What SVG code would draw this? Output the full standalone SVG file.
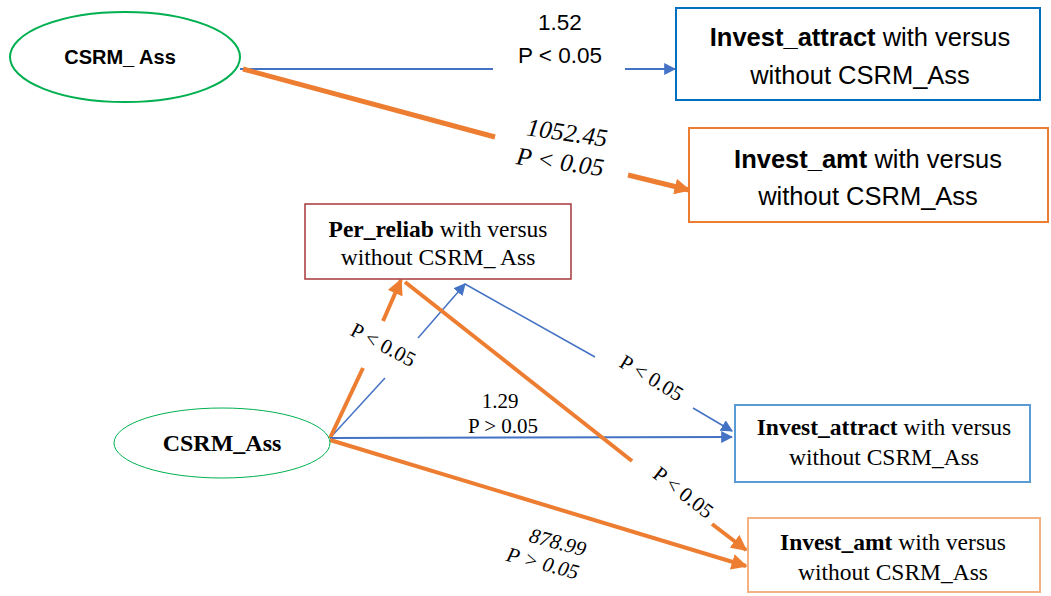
<svg xmlns="http://www.w3.org/2000/svg" width="1051" height="596" viewBox="0 0 1051 596">
<style>
.sans{font-family:"Liberation Sans",Arial,sans-serif;fill:#000}
.serif{font-family:"Liberation Serif","Times New Roman",serif;fill:#000}
.b{font-weight:bold}
.blue{stroke:#4472C4;fill:none}
.org{stroke:#ED7D31;fill:none}
</style>
<defs>
<marker id="ab2" viewBox="0 0 10 10" refX="9" refY="5" markerWidth="12" markerHeight="12" markerUnits="userSpaceOnUse" orient="auto"><path d="M0,0 L10,5 L0,10 z" fill="#4472C4"/></marker>
<marker id="ao" viewBox="0 0 10 10" refX="9" refY="5" markerWidth="16" markerHeight="16" markerUnits="userSpaceOnUse" orient="auto"><path d="M0,0 L10,5 L0,10 z" fill="#ED7D31"/></marker>
</defs>
<rect width="1051" height="596" fill="#fff"/>

<g id="connectors">
  <line class="blue" x1="240" y1="69" x2="493" y2="69" stroke-width="2"/>
  <line class="blue" x1="625" y1="69" x2="675" y2="69" stroke-width="2" marker-end="url(#ab2)"/>
  <line class="org" x1="243" y1="69" x2="495" y2="137" stroke-width="5"/>
  <line class="org" x1="628" y1="175" x2="689" y2="190" stroke-width="5" marker-end="url(#ao)"/>
  <line class="blue" x1="330" y1="438" x2="385" y2="378" stroke-width="1.5"/>
  <line class="blue" x1="418" y1="338" x2="465" y2="284" stroke-width="1.5" marker-end="url(#ab2)"/>
  <line class="org" x1="330" y1="438" x2="363" y2="368" stroke-width="4"/>
  <line class="org" x1="383" y1="321" x2="401" y2="280" stroke-width="4" marker-end="url(#ao)"/>
  <line class="blue" x1="465" y1="284" x2="595" y2="357" stroke-width="1.5"/>
  <line class="blue" x1="693" y1="408" x2="732" y2="431" stroke-width="1.5" marker-end="url(#ab2)"/>
  <line class="blue" x1="330" y1="438" x2="732" y2="437" stroke-width="2" marker-end="url(#ab2)"/>
  <line class="org" x1="405" y1="282" x2="632" y2="461" stroke-width="4"/>
  <line class="org" x1="712" y1="524" x2="746" y2="550" stroke-width="4" marker-end="url(#ao)"/>
  <line class="org" x1="330" y1="440" x2="746" y2="566" stroke-width="4" marker-end="url(#ao)"/>
</g>

<g id="labels">
  <text class="sans" x="560" y="30" font-size="22.5" text-anchor="middle">1.52</text>
  <text class="sans" x="560" y="63" font-size="22.5" text-anchor="middle">P &lt; 0.05</text>
  <text class="serif" font-style="italic" font-size="25" text-anchor="middle" transform="translate(566,141) rotate(8)">1052.45</text>
  <text class="serif" font-style="italic" font-size="25" text-anchor="middle" transform="translate(559,170) rotate(8)">P &lt; 0.05</text>
  <text class="serif" font-size="21" text-anchor="middle" transform="translate(380,351) rotate(28)">P &lt; 0.05</text>
  <text class="serif" font-size="21" text-anchor="middle" transform="translate(648,384) rotate(31)">P &lt; 0.05</text>
  <text class="serif" font-size="21" text-anchor="middle" transform="translate(679,498) rotate(38)">P &lt; 0.05</text>
  <text class="serif" x="500" y="408" font-size="21" text-anchor="middle">1.29</text>
  <text class="serif" x="503" y="433" font-size="21" text-anchor="middle">P &gt; 0.05</text>
  <text class="serif" font-style="italic" font-size="21" text-anchor="middle" transform="translate(556,549) rotate(15)">878.99</text>
  <text class="serif" font-style="italic" font-size="21" text-anchor="middle" transform="translate(541,570) rotate(15)">P &gt; 0.05</text>
</g>

<g id="csrm-top">
  <ellipse cx="125" cy="57" rx="115" ry="45" fill="#fff" stroke="#00B050" stroke-width="2"/>
  <text class="sans b" x="120" y="64" font-size="20" text-anchor="middle">CSRM_ Ass</text>
</g>
<g id="invest-attract-top">
  <rect x="676" y="8" width="364" height="92" fill="#fff" stroke="#0070C0" stroke-width="2"/>
  <text class="sans" x="860" y="46" font-size="25.5" text-anchor="middle"><tspan class="b">Invest_attract</tspan> with versus</text>
  <text class="sans" x="860" y="84" font-size="25.5" text-anchor="middle">without CSRM_Ass</text>
</g>
<g id="invest-amt-top">
  <rect x="689" y="128" width="359" height="94" fill="#fff" stroke="#ED7D31" stroke-width="2"/>
  <text class="sans" x="868" y="168" font-size="25.5" text-anchor="middle"><tspan class="b">Invest_amt</tspan> with versus</text>
  <text class="sans" x="868" y="205" font-size="25.5" text-anchor="middle">without CSRM_Ass</text>
</g>
<g id="per-reliab">
  <rect x="305" y="204" width="266" height="75" fill="#fff" stroke="#A5393B" stroke-width="1.5"/>
  <text class="serif" x="438" y="237" font-size="23.5" text-anchor="middle"><tspan class="b">Per_reliab</tspan> with versus</text>
  <text class="serif" x="438" y="265" font-size="23.5" text-anchor="middle">without CSRM_ Ass</text>
</g>
<g id="csrm-bottom">
  <ellipse cx="222" cy="443" rx="108" ry="35" fill="#fff" stroke="#00B050" stroke-width="1"/>
  <text class="serif b" x="222" y="451" font-size="24" text-anchor="middle">CSRM_Ass</text>
</g>
<g id="invest-attract-bottom">
  <rect x="735" y="405" width="295" height="77" fill="#fff" stroke="#5B9BD5" stroke-width="2"/>
  <text class="serif" x="884" y="435" font-size="23.5" text-anchor="middle"><tspan class="b">Invest_attract</tspan> with versus</text>
  <text class="serif" x="884" y="465" font-size="23.5" text-anchor="middle">without CSRM_Ass</text>
</g>
<g id="invest-amt-bottom">
  <rect x="748" y="518" width="292" height="74" fill="#fff" stroke="#F4B183" stroke-width="2"/>
  <text class="serif" x="893" y="550" font-size="23.5" text-anchor="middle"><tspan class="b">Invest_amt</tspan> with versus</text>
  <text class="serif" x="893" y="580" font-size="23.5" text-anchor="middle">without CSRM_Ass</text>
</g>
</svg>
